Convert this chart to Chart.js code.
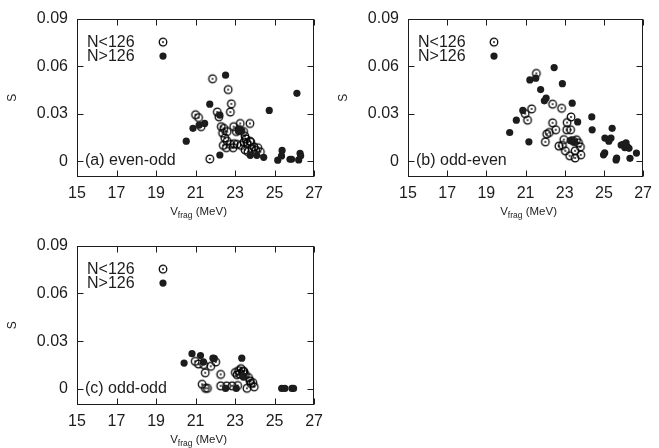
<!DOCTYPE html>
<html>
<head>
<meta charset="utf-8">
<script src="https://cdn.jsdelivr.net/npm/chart.js@4"></script>
<style>
  body { margin: 0; background: #fff; }
  canvas { position: absolute; }
</style>
</head>
<body>
<canvas id="panelA" width="330" height="220" style="left:0;top:0"></canvas>
<canvas id="panelB" width="329" height="220" style="left:330px;top:0"></canvas>
<canvas id="panelC" width="330" height="221" style="left:0;top:227px"></canvas>
<script>
'use strict';

// x axis: fragmentation potential V_frag (MeV); y axis: S
const xTicks = [15, 17, 19, 21, 23, 25, 27];
const sTicks = [0, 0.03, 0.06, 0.09];

// (a) even-odd
const eoUnderX = [21.72, 21.86, 21.00, 21.15, 21.28, 22.10, 22.18, 22.30, 22.43, 22.37, 22.48, 22.60, 22.60, 22.65,
  22.81, 22.76, 22.93, 22.56, 22.76, 22.90, 23.10, 23.26, 23.75, 23.06, 23.43, 23.50, 23.55, 23.45, 23.60, 23.75,
  23.80, 23.85, 23.95, 24.05, 24.15, 24.28, 23.50, 23.30, 23.65, 22.95, 23.20, 22.40];
const eoUnderS = [0.0014, 0.0520, 0.0293, 0.0275, 0.0218, 0.0310, 0.0280, 0.0218, 0.0207, 0.0177, 0.0146, 0.0187, 0.0126, 0.0452,
  0.0362, 0.0310, 0.0218, 0.0085, 0.0106, 0.0085, 0.0106, 0.0238, 0.0238, 0.0187, 0.0187, 0.0157, 0.0140, 0.0120, 0.0110, 0.0126,
  0.0120, 0.0080, 0.0090, 0.0070, 0.0085, 0.0059, 0.0072, 0.0100, 0.0060, 0.0110, 0.0200, 0.0100];
const eoOverX = [20.53, 20.87, 21.18, 21.46, 21.72, 22.23, 22.23, 22.52, 23.18, 23.26, 23.34, 23.22, 23.77, 24.10,
  24.45, 24.73, 25.16, 25.35, 25.38, 25.78, 25.86, 26.13, 26.22, 26.29, 26.32];
const eoOverS = [0.0126, 0.0207, 0.0228, 0.0238, 0.0360, 0.0039, 0.0290, 0.0543, 0.0187, 0.0191, 0.0191, 0.0200, 0.0037, 0.0037,
  0.0024, 0.0320, 0.0006, 0.0033, 0.0068, 0.0012, 0.0012, 0.0428, 0.0008, 0.0050, 0.0034];

// (b) odd-even
const oeUnderX = [21.55, 21.31, 20.98, 21.10, 22.38, 22.84, 22.38, 22.54, 22.21, 22.08, 22.01, 22.70, 23.12, 23.32,
  23.10, 23.30, 22.95, 23.03, 23.25, 23.53, 23.82, 23.53, 23.45, 23.70, 23.80, 23.60, 22.88];
const oeUnderS = [0.0554, 0.0330, 0.0300, 0.0259, 0.0360, 0.0334, 0.0242, 0.0198, 0.0181, 0.0171, 0.0122, 0.0095, 0.0244, 0.0279,
  0.0198, 0.0198, 0.0136, 0.0065, 0.0034, 0.0020, 0.0040, 0.0065, 0.0126, 0.0116, 0.0090, 0.0135, 0.0100];
const oeOverX = [20.19, 20.53, 20.86, 21.17, 21.22, 21.52, 21.77, 21.96, 22.05, 22.46, 22.88, 23.38, 23.66, 23.28,
  23.35, 23.42, 23.50, 24.38, 24.40, 24.98, 25.04, 25.05, 25.25, 25.36, 25.42, 25.62, 25.65, 25.88, 25.98, 26.07,
  26.13, 26.20, 26.28, 26.33, 26.66];
const oeOverS = [0.0181, 0.0259, 0.0320, 0.0122, 0.0513, 0.0524, 0.0452, 0.0381, 0.0398, 0.0591, 0.0489, 0.0366, 0.0248, 0.0130,
  0.0135, 0.0125, 0.0120, 0.0279, 0.0198, 0.0040, 0.0052, 0.0146, 0.0126, 0.0146, 0.0207, 0.0008, 0.0020, 0.0102, 0.0106, 0.0085,
  0.0116, 0.0091, 0.0081, 0.0018, 0.0051];

// (c) odd-odd
const ooUnderX = [20.98, 21.15, 21.41, 21.77, 22.02, 21.49, 21.33, 21.50, 21.60, 22.27, 22.27, 22.57, 22.85, 23.13,
  23.01, 23.18, 23.30, 23.40, 23.52, 23.68, 23.76, 23.90, 23.97, 23.60, 23.10, 23.22, 23.45, 23.80];
const ooUnderS = [0.0174, 0.0157, 0.0153, 0.0143, 0.0170, 0.0102, 0.0030, 0.0005, 0.0005, 0.0092, 0.0020, 0.0020, 0.0020, 0.0022,
  0.0104, 0.0116, 0.0128, 0.0112, 0.0092, 0.0072, 0.0051, 0.0040, 0.0014, 0.0005, 0.0090, 0.0095, 0.0110, 0.0035];
const ooOverX = [20.42, 20.82, 21.25, 21.40, 21.88, 21.95, 22.52, 23.06, 23.34, 23.38, 23.42, 23.46, 25.36, 25.52, 25.88, 25.96];
const ooOverS = [0.0163, 0.0222, 0.0210, 0.0170, 0.0194, 0.0192, 0.0004, 0.0004, 0.0194, 0.0085, 0.0075, 0.0080, 0.0004, 0.0004,
  0.0004, 0.0004];

const INK = '#1c1c1c';
const FONT = '"Liberation Sans", Arial, Helvetica, sans-serif';

// open circle with a dot in the middle
const openMark = document.createElement('canvas');
openMark.width = 12;
openMark.height = 12;
(function() {
  const c = openMark.getContext('2d');
  c.strokeStyle = '#000';
  c.fillStyle = '#000';
  c.lineWidth = 1.25;
  c.beginPath();
  c.arc(6, 6, 3.8, 0, Math.PI * 2);
  c.stroke();
  c.beginPath();
  c.arc(6, 6, 0.9, 0, Math.PI * 2);
  c.fill();
})();

function zip(xs, ys) {
  return xs.map((x, i) => ({ x: x, y: ys[i] }));
}

// frame with inward mirrored ticks, legend, panel label and axis titles
const framePlugin = {
  id: 'frame',
  afterDraw(chart, args, opts) {
    const ctx = chart.ctx;
    const a = chart.chartArea;
    const xs = chart.scales.x, ys = chart.scales.y;
    const L = Math.round(a.left) + 0.5, R = Math.round(a.right) - 0.5;
    const T = Math.round(a.top) + 0.5, B = Math.round(a.bottom) - 0.5;

    ctx.save();
    ctx.strokeStyle = INK;
    ctx.lineWidth = 1;
    ctx.strokeRect(L, T, R - L, B - T);
    ctx.beginPath();
    xTicks.forEach(v => {
      const px = Math.round(xs.getPixelForValue(v)) + 0.5;
      ctx.moveTo(px, B); ctx.lineTo(px, B - 6);
      ctx.moveTo(px, T); ctx.lineTo(px, T + 6);
    });
    sTicks.forEach(v => {
      const py = Math.round(ys.getPixelForValue(v)) + 0.5;
      ctx.moveTo(L, py); ctx.lineTo(L + 6, py);
      ctx.moveTo(R, py); ctx.lineTo(R - 6, py);
    });
    ctx.stroke();

    ctx.fillStyle = INK;
    ctx.font = '16px ' + FONT;
    ctx.textAlign = 'left';
    ctx.textBaseline = 'middle';
    ctx.fillText('N<126', a.left + 10, a.top + 23.5);
    ctx.fillText('N>126', a.left + 10, a.top + 37.5);
    ctx.drawImage(openMark, a.left + 86 - 6, a.top + 23.5 - 6);
    ctx.beginPath();
    ctx.arc(a.left + 86, a.top + 37.5, 3.6, 0, Math.PI * 2);
    ctx.fill();

    ctx.fillText(opts.label, a.left + 8, a.bottom - 16);

    // y title
    ctx.save();
    ctx.font = '12px ' + FONT;
    ctx.translate(a.left - 64, (a.top + a.bottom) / 2);
    ctx.rotate(-Math.PI / 2);
    ctx.textAlign = 'center';
    ctx.fillText('S', 0, 0);
    ctx.restore();

    // x title with subscript
    const big = '11.5px ' + FONT, small = '8.5px ' + FONT;
    ctx.textBaseline = 'alphabetic';
    ctx.font = big;
    const wV = ctx.measureText('V').width;
    const wRest = ctx.measureText(' (MeV)').width;
    ctx.font = small;
    const wSub = ctx.measureText('frag').width;
    let tx = (a.left + a.right) / 2 + 3 - (wV + wSub + wRest) / 2;
    const ty = a.bottom + 37.5;
    ctx.font = big;
    ctx.fillText('V', tx, ty);
    tx += wV;
    ctx.font = small;
    ctx.fillText('frag', tx, ty + 3.5);
    tx += wSub;
    ctx.font = big;
    ctx.fillText(' (MeV)', tx, ty);
    ctx.restore();
  }
};

function makePanel(id, label, underX, underS, overX, overS, pad) {
  const tickFont = { family: FONT, size: 16 };
  return new Chart(document.getElementById(id), {
    type: 'scatter',
    data: {
      datasets: [
        { label: 'N>126', data: zip(overX, overS), pointStyle: 'circle', pointRadius: 3.6,
          backgroundColor: INK, borderColor: INK, borderWidth: 0 },
        { label: 'N<126', data: zip(underX, underS), pointStyle: openMark, pointRadius: 4 }
      ]
    },
    options: {
      responsive: false,
      animation: false,
      events: [],
      layout: { padding: pad },
      plugins: {
        legend: { display: false },
        tooltip: { enabled: false },
        frame: { label: label }
      },
      scales: {
        x: {
          type: 'linear', min: 15, max: 27,
          afterBuildTicks: s => { s.ticks = xTicks.map(v => ({ value: v })); },
          ticks: { font: tickFont, color: INK, padding: 7, maxRotation: 0 },
          grid: { display: false, drawTicks: false },
          border: { display: false },
          afterFit: s => { s.height = 43; }
        },
        y: {
          type: 'linear', min: -0.01, max: 0.09,
          afterBuildTicks: s => { s.ticks = sTicks.map(v => ({ value: v })); },
          ticks: { font: tickFont, color: INK, padding: 9,
            callback: v => (v === 0 ? '0' : v.toFixed(2)) },
          grid: { display: false, drawTicks: false },
          border: { display: false },
          afterFit: s => { s.width = 50; }
        }
      }
    },
    plugins: [framePlugin]
  });
}

makePanel('panelA', '(a) even-odd', eoUnderX, eoUnderS, eoOverX, eoOverS,
  { left: 27, right: 12, top: 13.5, bottom: 0 });
makePanel('panelB', '(b) odd-even', oeUnderX, oeUnderS, oeOverX, oeOverS,
  { left: 28, right: 9, top: 13.5, bottom: 0 });
makePanel('panelC', '(c) odd-odd', ooUnderX, ooUnderS, ooOverX, ooOverS,
  { left: 27, right: 12, top: 13.5, bottom: 0 });
</script>
</body>
</html>
